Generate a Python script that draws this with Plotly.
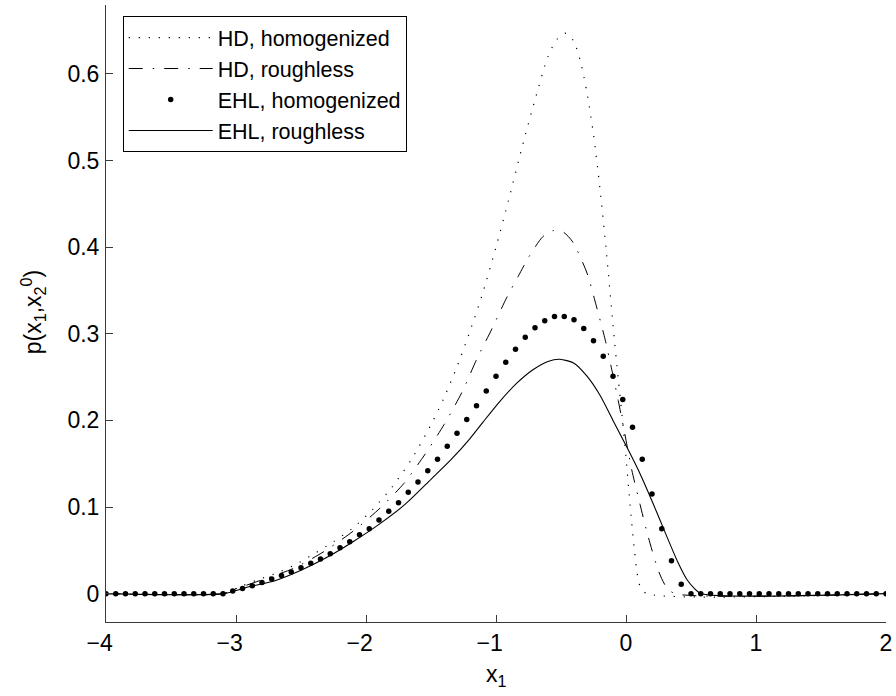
import plotly.graph_objects as go

# ---------------- data ----------------
# HD, homogenized (dotted line)
X_HD_HOM = [-4, -3.1, -3.0, -2.85, -2.7, -2.55, -2.4, -2.25, -2.1, -1.95, -1.8, -1.65,
            -1.5, -1.4, -1.3, -1.2, -1.1, -1.0, -0.9, -0.8, -0.7, -0.6, -0.53, -0.46,
            -0.4, -0.35, -0.3, -0.25, -0.2, -0.15, -0.1, -0.06, -0.03, 0.0, 0.02, 0.04,
            0.065, 0.085, 0.11, 0.16, 2]
Y_HD_HOM = [0, 0, 0.006, 0.015, 0.023, 0.033, 0.046, 0.060, 0.076, 0.097, 0.123, 0.155,
            0.195, 0.226, 0.262, 0.303, 0.348, 0.400, 0.456, 0.515, 0.570, 0.620, 0.640, 0.647,
            0.637, 0.614, 0.578, 0.530, 0.467, 0.393, 0.310, 0.248, 0.205, 0.158, 0.122, 0.088,
            0.050, 0.024, 0.008, 0, 0]

# HD, roughless (dash-dot line)
X_HD_RGH = [-4, -3.1, -3.03, -2.8, -2.56, -2.33, -2.1, -1.89, -1.71, -1.55, -1.40, -1.26,
            -1.15, -1.03, -0.92, -0.83, -0.75, -0.64, -0.56, -0.48, -0.41, -0.30, -0.23,
            -0.16, -0.11, -0.06, -0.01, 0.044, 0.108, 0.172, 0.253, 0.313, 0.377, 2]
Y_HD_RGH = [0, 0, 0.004, 0.016, 0.029, 0.048, 0.072, 0.099, 0.127, 0.160, 0.195, 0.233,
            0.270, 0.306, 0.341, 0.366, 0.388, 0.412, 0.419, 0.417, 0.406, 0.370, 0.333,
            0.293, 0.259, 0.223, 0.185, 0.143, 0.103, 0.065, 0.025, 0.007, 0, 0]

# EHL, homogenized (markers)
X_EHL_HOM = [-4.0, -3.925, -3.85, -3.775, -3.7, -3.625, -3.55, -3.475, -3.4, -3.325,
             -3.25, -3.175, -3.1, -3.025, -2.95, -2.875, -2.8, -2.725, -2.65, -2.575,
             -2.5, -2.425, -2.35, -2.275, -2.2, -2.125, -2.05, -1.975, -1.9, -1.825,
             -1.75, -1.675, -1.6, -1.525, -1.45, -1.375, -1.3, -1.225, -1.15, -1.075,
             -1.0, -0.925, -0.85, -0.775, -0.7, -0.625, -0.55, -0.475, -0.4, -0.325,
             -0.25, -0.175, -0.1, -0.025, 0.05, 0.125, 0.2, 0.275, 0.35, 0.425,
             0.5, 0.575, 0.65, 0.725, 0.8, 0.875, 0.95, 1.025, 1.1, 1.175,
             1.25, 1.325, 1.4, 1.475, 1.55, 1.625, 1.7, 1.775, 1.85, 1.925, 2.0]
Y_EHL_HOM = [0, 0, 0, 0, 0, 0, 0, 0, 0, 0,
             0, 0, 0, 0.003, 0.006, 0.009, 0.013, 0.017, 0.021, 0.025,
             0.030, 0.035, 0.040, 0.046, 0.053, 0.060, 0.068, 0.075, 0.085, 0.095,
             0.105, 0.117, 0.129, 0.142, 0.155, 0.170, 0.185, 0.201, 0.217, 0.234,
             0.251, 0.267, 0.282, 0.296, 0.307, 0.315, 0.320, 0.320, 0.316, 0.306,
             0.292, 0.274, 0.251, 0.224, 0.192, 0.155, 0.115, 0.075, 0.038, 0.011,
             0, 0, 0, 0, 0, 0, 0, 0, 0, 0,
             0, 0, 0, 0, 0, 0, 0, 0, 0, 0, 0]

# EHL, roughless (solid line)
X_EHL_RGH = [-4, -3.1, -2.9, -2.7, -2.5, -2.3, -2.1, -1.9, -1.7, -1.5, -1.35, -1.2, -1.1,
             -0.97, -0.84, -0.71, -0.6, -0.51, -0.4, -0.3, -0.2, -0.1, 0.0, 0.1, 0.2, 0.3,
             0.4, 0.47, 0.52, 0.58, 2]
Y_EHL_RGH = [0, 0, 0.008, 0.015, 0.027, 0.042, 0.060, 0.080, 0.103, 0.132, 0.154, 0.179, 0.198,
             0.222, 0.243, 0.259, 0.268, 0.2705, 0.266, 0.251, 0.229, 0.200, 0.171, 0.141, 0.107,
             0.071, 0.036, 0.016, 0.007, 0, 0]

X_TICKS = [-4, -3, -2, -1, 0, 1, 2]
X_TICKTEXT = ["\u22124\u00a0\u00a0", "\u22123\u00a0\u00a0", "\u22122\u00a0\u00a0",
              "\u22121\u00a0\u00a0", "0", "1", "2"]
Y_TICKS = [0, 0.1, 0.2, 0.3, 0.4, 0.5, 0.6]
Y_TICKTEXT = ["0", "0.1", "0.2", "0.3", "0.4", "0.5", "0.6"]

NAMES = ["HD, homogenized", "HD, roughless", "EHL, homogenized", "EHL, roughless"]

# ---------------- figure ----------------
FONT = "Liberation Sans, Arial, Helvetica, sans-serif"
AXC = "#3a3a3a"

fig = go.Figure()
fig.add_trace(go.Scatter(
    x=X_HD_HOM, y=Y_HD_HOM, mode="lines", name=NAMES[0],
    line=dict(color="black", width=1.2, dash="1.2px,8.8px", shape="spline", smoothing=0.7)))
fig.add_trace(go.Scatter(
    x=X_HD_RGH, y=Y_HD_RGH, mode="lines", name=NAMES[1],
    line=dict(color="black", width=1, dash="14px,10px,1.5px,10px", shape="spline", smoothing=0.7)))
fig.add_trace(go.Scatter(
    x=X_EHL_HOM, y=Y_EHL_HOM, mode="markers", name=NAMES[2],
    marker=dict(color="black", size=5.5, line=dict(width=0))))
fig.add_trace(go.Scatter(
    x=X_EHL_RGH, y=Y_EHL_RGH, mode="lines", name=NAMES[3],
    line=dict(color="black", width=1.1, shape="spline", smoothing=0.7)))

axis_common = dict(
    showline=True, linecolor=AXC, linewidth=1, mirror=False,
    ticks="inside", ticklen=7, tickcolor=AXC, tickwidth=1,
    showgrid=False, zeroline=False, automargin=False,
    tickfont=dict(family=FONT, size=23, color="black"),
)

fig.update_layout(
    width=896, height=696,
    margin=dict(l=106, r=10, t=5, b=74),
    paper_bgcolor="white", plot_bgcolor="white",
    font=dict(family=FONT, size=23, color="black"),
    xaxis=dict(range=[-4, 2], tickmode="array", tickvals=X_TICKS, ticktext=X_TICKTEXT,
               ticklabelstandoff=0, **axis_common),
    yaxis=dict(range=[-0.0327, 0.6794], tickmode="array", tickvals=Y_TICKS, ticktext=Y_TICKTEXT,
               ticklabelstandoff=1, **axis_common),
    showlegend=True,
    legend=dict(
        x=0.0214, y=0.982, xanchor="left", yanchor="top",
        bgcolor="white", bordercolor="black", borderwidth=1,
        font=dict(family=FONT, size=21.5, color="black"),
        itemwidth=84, tracegroupgap=0, itemsizing="trace",
    ),
    annotations=[
        dict(text="p(x<sub>1</sub>,x<sub>2</sub><sup>0</sup>)", xref="paper", yref="paper",
             x=-0.0936, y=0.502, xanchor="center", yanchor="middle", textangle=-90,
             showarrow=False, font=dict(family=FONT, size=23, color="black")),
        dict(text="x<sub>1</sub>", xref="paper", yref="paper",
             x=0.5, y=-0.086, xanchor="center", yanchor="middle",
             showarrow=False, font=dict(family=FONT, size=23, color="black")),
    ],
)

fig.write_html("out.html", config={"displayModeBar": False},
               post_script="document.body.style.margin='0px';")
